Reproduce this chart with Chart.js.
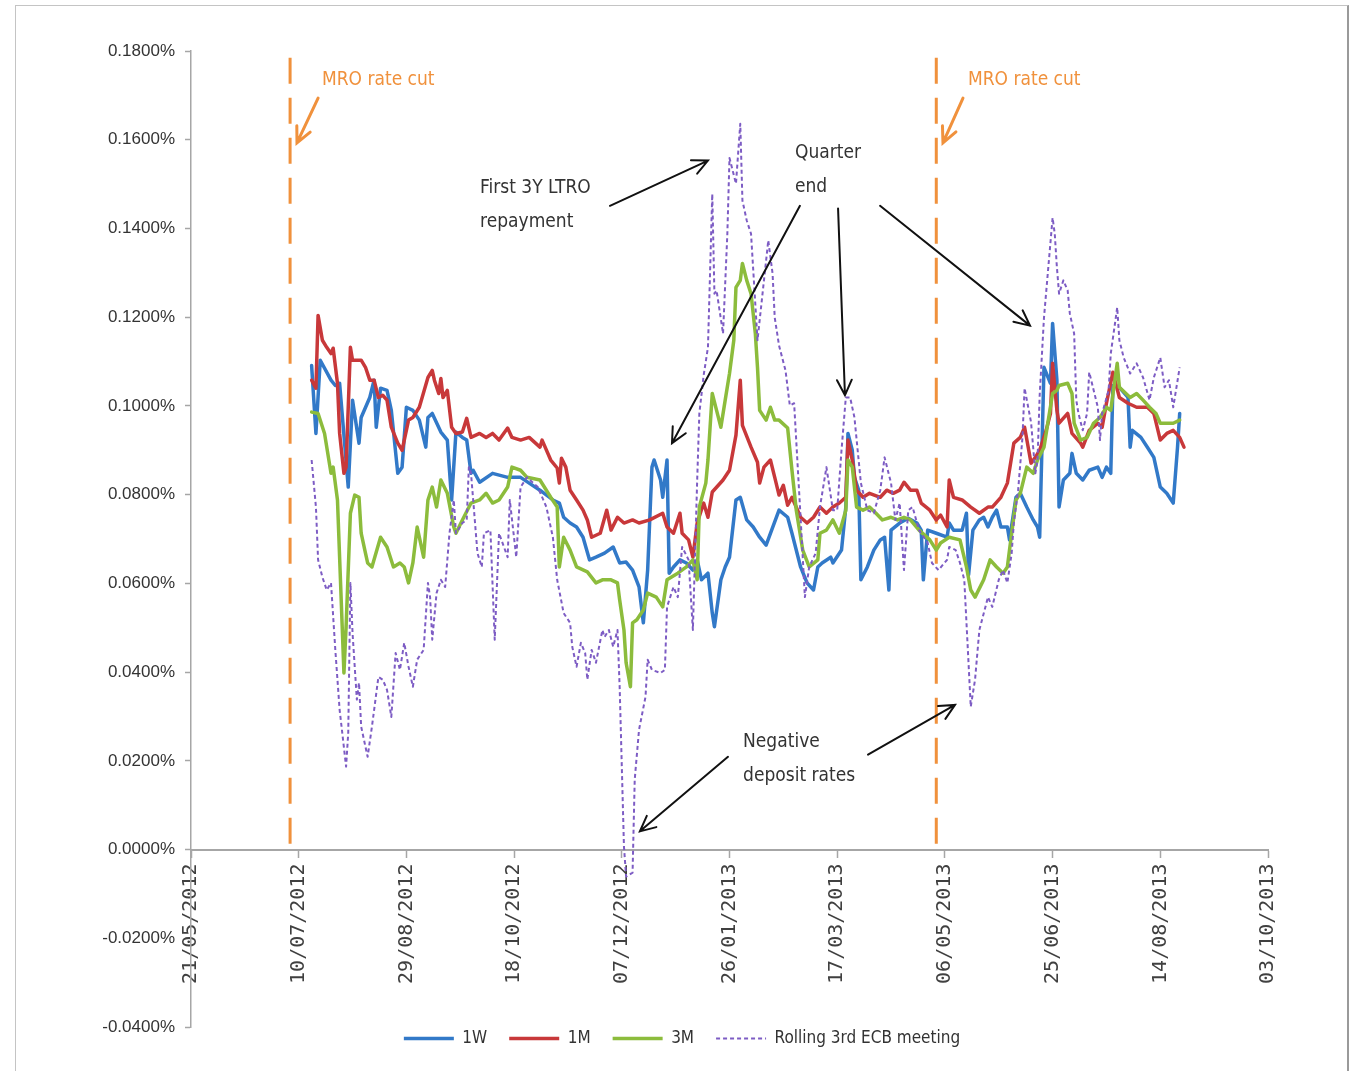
<!DOCTYPE html>
<html>
<head>
<meta charset="utf-8">
<title>Euribor rates around ECB rate cuts</title>
<script src="https://cdn.jsdelivr.net/npm/chart.js@4.4.1/dist/chart.umd.min.js"></script>
<style>
	html, body { margin: 0; padding: 0; background: #fff; }
	#wrap { position: relative; width: 1349px; height: 1071px; }
	#frame { position: absolute; left: 15px; top: 5px; width: 1331px; height: 1080px;
		border-left: 1px solid #c4c4c4; border-top: 1px solid #c4c4c4; border-right: 2px solid #9a9a9a; }
	canvas { position: absolute; left: 0; top: 0; }
</style>
</head>
<body>
<div id="wrap">
	<div id="frame"></div>
	<canvas id="chart" width="1349" height="1071"></canvas>
</div>
<script>
'use strict';

// day offsets counted from 21/05/2012, values in percent
const startDate = Date.UTC( 2012, 4, 21 );
const xTickStep = 50;
const xMaxDay = 500;
const yTicks = { min: -0.04, max: 0.18, step: 0.02 };

const w1Days = [ 56, 58, 60, 65, 67, 69, 73, 75, 78, 79, 83, 85, 86, 88, 91, 93, 96, 98, 100, 103,
	106, 109, 110, 112, 116, 119, 121, 123, 126, 128, 130, 131, 134, 140, 147, 153, 157, 162, 168, 171,
	173, 176, 179, 182, 185, 188, 192, 196, 199, 202, 205, 208, 210, 212, 214, 215, 218, 219, 221, 222,
	224, 227, 230, 233, 235, 237, 240, 242, 243, 246, 248, 250, 253, 255, 258, 261, 264, 267, 273, 277,
	279, 283, 286, 289, 291, 293, 297, 298, 302, 304, 305, 307, 308, 310, 311, 314, 317, 320, 322, 324,
	325, 329, 333, 337, 339, 340, 342, 346, 351, 352, 354, 358, 360, 361, 363, 366, 368, 370, 372, 374,
	376, 379, 380, 383, 385, 388, 391, 393, 394, 396, 399, 400, 402, 403, 405, 408, 409, 411, 414, 417,
	421, 423, 425, 427, 428, 431, 435, 436, 437, 441, 444, 447, 450, 453, 456, 458, 459 ];
const w1Rates = [ 0.1091, 0.0938, 0.1103, 0.1058, 0.1046, 0.1051, 0.0817, 0.1013, 0.0916, 0.0974, 0.1019, 0.1058, 0.0952, 0.1040, 0.1035, 0.0990, 0.0848, 0.0862, 0.0997, 0.0990,
	0.0968, 0.0907, 0.0974, 0.0983, 0.0941, 0.0923, 0.0788, 0.0941, 0.0929, 0.0923, 0.0848, 0.0855, 0.0828, 0.0848, 0.0839, 0.0839, 0.0826, 0.0810, 0.0788, 0.0781,
	0.0749, 0.0736, 0.0727, 0.0704, 0.0653, 0.0659, 0.0668, 0.0682, 0.0646, 0.0648, 0.0630, 0.0592, 0.0511, 0.0630, 0.0862, 0.0878, 0.0833, 0.0794, 0.0878, 0.0623,
	0.0637, 0.0653, 0.0646, 0.0630, 0.0653, 0.0608, 0.0623, 0.0533, 0.0502, 0.0608, 0.0637, 0.0659, 0.0788, 0.0794, 0.0743, 0.0727, 0.0704, 0.0686, 0.0765, 0.0749,
	0.0713, 0.0637, 0.0601, 0.0585, 0.0637, 0.0646, 0.0659, 0.0646, 0.0675, 0.0772, 0.0938, 0.0900, 0.0839, 0.0810, 0.0608, 0.0637, 0.0675, 0.0698, 0.0704, 0.0585,
	0.0720, 0.0736, 0.0747, 0.0736, 0.0720, 0.0608, 0.0720, 0.0713, 0.0704, 0.0736, 0.0720, 0.0720, 0.0758, 0.0619, 0.0720, 0.0743, 0.0749, 0.0727, 0.0749, 0.0765,
	0.0727, 0.0727, 0.0698, 0.0794, 0.0803, 0.0772, 0.0743, 0.0727, 0.0704, 0.1087, 0.1051, 0.1186, 0.1058, 0.0772, 0.0833, 0.0848, 0.0893, 0.0848, 0.0833, 0.0855,
	0.0862, 0.0839, 0.0862, 0.0848, 0.1046, 0.1042, 0.1019, 0.0907, 0.0945, 0.0929, 0.0907, 0.0884, 0.0817, 0.0803, 0.0781, 0.0907, 0.0983 ];

const m1Days = [ 56, 58, 59, 61, 63, 65, 66, 68, 69, 71, 72, 74, 75, 79, 81, 83, 85, 87, 89, 91,
	93, 96, 98, 101, 103, 106, 110, 112, 113, 115, 116, 117, 119, 121, 123, 126, 128, 130, 134, 137,
	140, 143, 147, 149, 153, 157, 162, 163, 167, 170, 171, 172, 174, 176, 179, 182, 184, 186, 190, 193,
	195, 198, 201, 205, 208, 213, 219, 221, 224, 227, 228, 231, 233, 235, 238, 240, 242, 247, 250, 253,
	255, 256, 260, 263, 264, 266, 269, 271, 273, 275, 277, 279, 283, 286, 289, 292, 295, 298, 301, 304,
	305, 307, 309, 312, 315, 320, 323, 326, 329, 331, 334, 337, 339, 343, 346, 348, 351, 352, 354, 358,
	362, 366, 370, 372, 376, 379, 382, 385, 387, 390, 392, 394, 397, 399, 400, 402, 403, 407, 409, 413,
	414, 417, 421, 423, 425, 428, 431, 435, 439, 444, 447, 450, 453, 456, 459, 461 ];
const m1Rates = [ 0.1058, 0.1040, 0.1204, 0.1148, 0.1132, 0.1118, 0.1130, 0.1051, 0.0938, 0.0848, 0.0862, 0.1132, 0.1103, 0.1103, 0.1087, 0.1058, 0.1058, 0.1019, 0.1024, 0.1013,
	0.0952, 0.0916, 0.0900, 0.0968, 0.0974, 0.0997, 0.1064, 0.1080, 0.1058, 0.1028, 0.1062, 0.1019, 0.1035, 0.0952, 0.0938, 0.0941, 0.0972, 0.0929, 0.0938, 0.0929,
	0.0938, 0.0923, 0.0950, 0.0929, 0.0923, 0.0929, 0.0907, 0.0923, 0.0878, 0.0860, 0.0826, 0.0882, 0.0862, 0.0810, 0.0788, 0.0765, 0.0743, 0.0704, 0.0713, 0.0765,
	0.0720, 0.0749, 0.0736, 0.0743, 0.0736, 0.0743, 0.0758, 0.0727, 0.0713, 0.0758, 0.0713, 0.0698, 0.0659, 0.0736, 0.0781, 0.0749, 0.0806, 0.0833, 0.0855, 0.0934,
	0.1058, 0.0956, 0.0907, 0.0873, 0.0826, 0.0862, 0.0878, 0.0839, 0.0799, 0.0821, 0.0776, 0.0794, 0.0749, 0.0736, 0.0749, 0.0772, 0.0758, 0.0772, 0.0781, 0.0794,
	0.0923, 0.0878, 0.0810, 0.0794, 0.0803, 0.0794, 0.0810, 0.0803, 0.0810, 0.0828, 0.0810, 0.0810, 0.0781, 0.0765, 0.0743, 0.0754, 0.0727, 0.0833, 0.0794, 0.0788,
	0.0772, 0.0758, 0.0772, 0.0772, 0.0794, 0.0826, 0.0916, 0.0929, 0.0952, 0.0871, 0.0884, 0.0900, 0.0945, 0.0983, 0.1096, 0.0990, 0.0961, 0.0983, 0.0938, 0.0916,
	0.0907, 0.0945, 0.0961, 0.0952, 0.1006, 0.1076, 0.1019, 0.1006, 0.0997, 0.0997, 0.0983, 0.0923, 0.0938, 0.0945, 0.0929, 0.0907 ];

const m3Days = [ 56, 59, 62, 65, 66, 68, 71, 72, 74, 76, 78, 79, 81, 82, 84, 88, 91, 94, 97, 99,
	101, 103, 105, 108, 110, 112, 114, 116, 119, 122, 123, 126, 130, 134, 137, 140, 143, 147, 149, 153,
	156, 162, 167, 170, 171, 173, 176, 179, 184, 188, 191, 195, 198, 199, 201, 202, 204, 205, 207, 210,
	212, 216, 219, 221, 226, 230, 233, 235, 236, 239, 240, 242, 244, 246, 248, 250, 252, 253, 255, 256,
	258, 260, 262, 263, 264, 267, 269, 271, 273, 277, 279, 281, 284, 287, 291, 292, 295, 298, 301, 304,
	305, 307, 309, 312, 315, 318, 321, 325, 328, 331, 334, 338, 343, 346, 348, 352, 357, 360, 362, 364,
	368, 371, 374, 377, 379, 380, 383, 385, 388, 391, 393, 396, 398, 400, 402, 403, 407, 409, 410, 413,
	416, 419, 422, 425, 427, 430, 431, 436, 439, 442, 445, 448, 450, 453, 456, 459 ];
const m3Rates = [ 0.0986, 0.0983, 0.0938, 0.0848, 0.0862, 0.0788, 0.0398, 0.0502, 0.0758, 0.0799, 0.0794, 0.0713, 0.0668, 0.0646, 0.0637, 0.0704, 0.0682, 0.0637, 0.0646, 0.0637,
	0.0601, 0.0646, 0.0727, 0.0659, 0.0788, 0.0817, 0.0772, 0.0833, 0.0803, 0.0727, 0.0713, 0.0743, 0.0781, 0.0788, 0.0803, 0.0781, 0.0788, 0.0817, 0.0862, 0.0855,
	0.0839, 0.0833, 0.0794, 0.0772, 0.0637, 0.0704, 0.0675, 0.0637, 0.0626, 0.0601, 0.0608, 0.0608, 0.0601, 0.0563, 0.0495, 0.0421, 0.0367, 0.0511, 0.0518, 0.0540,
	0.0578, 0.0569, 0.0547, 0.0608, 0.0623, 0.0637, 0.0653, 0.0608, 0.0772, 0.0826, 0.0878, 0.1028, 0.0990, 0.0952, 0.1013, 0.1073, 0.1148, 0.1267, 0.1283, 0.1321,
	0.1283, 0.1253, 0.1163, 0.1087, 0.0990, 0.0968, 0.0997, 0.0968, 0.0968, 0.0950, 0.0855, 0.0765, 0.0675, 0.0637, 0.0653, 0.0713, 0.0720, 0.0743, 0.0713, 0.0765,
	0.0878, 0.0862, 0.0772, 0.0765, 0.0772, 0.0758, 0.0743, 0.0749, 0.0743, 0.0749, 0.0743, 0.0720, 0.0698, 0.0675, 0.0691, 0.0704, 0.0698, 0.0637, 0.0585, 0.0569,
	0.0608, 0.0653, 0.0637, 0.0623, 0.0637, 0.0675, 0.0788, 0.0803, 0.0862, 0.0848, 0.0878, 0.0907, 0.0968, 0.1028, 0.1035, 0.1046, 0.1051, 0.1028, 0.0961, 0.0923,
	0.0929, 0.0961, 0.0974, 0.0997, 0.0990, 0.1096, 0.1042, 0.1019, 0.1028, 0.1013, 0.0997, 0.0983, 0.0961, 0.0961, 0.0961, 0.0968 ];

const ecbDays = [ 56, 58, 59, 61, 63, 65, 67, 69, 72, 73, 74, 75, 77, 78, 79, 82, 84, 87, 89, 91,
	93, 95, 97, 99, 101, 103, 105, 108, 110, 111, 112, 114, 116, 118, 120, 122, 123, 126, 128, 129,
	130, 133, 135, 136, 139, 141, 143, 147, 148, 151, 153, 156, 161, 165, 168, 170, 173, 176, 177, 179,
	181, 183, 184, 186, 188, 191, 192, 194, 196, 198, 199, 201, 202, 205, 206, 208, 211, 212, 214, 218,
	220, 221, 224, 226, 228, 231, 233, 235, 236, 238, 240, 242, 243, 244, 247, 249, 250, 253, 255, 256,
	258, 260, 263, 265, 266, 268, 270, 271, 273, 276, 278, 280, 283, 285, 287, 290, 292, 295, 298, 300,
	302, 304, 306, 308, 311, 314, 317, 320, 322, 325, 327, 329, 331, 333, 335, 338, 342, 344, 347, 351,
	352, 355, 357, 359, 362, 364, 366, 370, 372, 375, 377, 379, 381, 382, 384, 386, 387, 390, 392, 393,
	394, 396, 398, 400, 401, 402, 403, 405, 407, 408, 410, 411, 412, 414, 416, 417, 421, 422, 423, 426,
	427, 430, 431, 433, 436, 439, 442, 445, 447, 450, 452, 454, 456, 459 ];
const ecbRates = [ 0.0878, 0.0772, 0.0653, 0.0614, 0.0585, 0.0601, 0.0450, 0.0315, 0.0187, 0.0263, 0.0601, 0.0488, 0.0338, 0.0376, 0.0277, 0.0209, 0.0277, 0.0389, 0.0383, 0.0360,
	0.0299, 0.0443, 0.0405, 0.0466, 0.0412, 0.0367, 0.0428, 0.0450, 0.0601, 0.0569, 0.0473, 0.0578, 0.0608, 0.0592, 0.0713, 0.0788, 0.0713, 0.0736, 0.0743, 0.0862,
	0.0848, 0.0668, 0.0637, 0.0713, 0.0720, 0.0473, 0.0713, 0.0659, 0.0788, 0.0659, 0.0817, 0.0839, 0.0817, 0.0772, 0.0704, 0.0608, 0.0533, 0.0511, 0.0457, 0.0412,
	0.0466, 0.0443, 0.0383, 0.0450, 0.0421, 0.0495, 0.0479, 0.0495, 0.0457, 0.0495, 0.0367, 0.0007, -0.0061, -0.0052, 0.0158, 0.0270, 0.0344, 0.0428, 0.0405, 0.0398,
	0.0405, 0.0547, 0.0592, 0.0569, 0.0682, 0.0653, 0.0495, 0.0833, 0.0983, 0.1069, 0.1132, 0.1478, 0.1253, 0.1260, 0.1163, 0.1388, 0.1559, 0.1501, 0.1636, 0.1463,
	0.1418, 0.1388, 0.1148, 0.1238, 0.1283, 0.1373, 0.1298, 0.1199, 0.1136, 0.1080, 0.1001, 0.1006, 0.0749, 0.0569, 0.0637, 0.0668, 0.0772, 0.0862, 0.0765, 0.0765,
	0.0900, 0.1019, 0.1019, 0.0974, 0.0826, 0.0765, 0.0758, 0.0810, 0.0884, 0.0826, 0.0743, 0.0781, 0.0630, 0.0765, 0.0772, 0.0720, 0.0691, 0.0646, 0.0630, 0.0653,
	0.0682, 0.0675, 0.0646, 0.0608, 0.0322, 0.0383, 0.0495, 0.0569, 0.0547, 0.0608, 0.0630, 0.0601, 0.0668, 0.0736, 0.0810, 0.0929, 0.1040, 0.0963, 0.0848, 0.0878,
	0.1024, 0.1199, 0.1312, 0.1424, 0.1388, 0.1312, 0.1253, 0.1283, 0.1260, 0.1208, 0.1163, 0.1013, 0.0983, 0.0945, 0.0983, 0.1076, 0.0997, 0.0923, 0.0983, 0.1035,
	0.1118, 0.1222, 0.1148, 0.1109, 0.1073, 0.1096, 0.1064, 0.1013, 0.1064, 0.1109, 0.1042, 0.1058, 0.0997, 0.1087 ];

// ECB rate cut dates (06/07/2012 and 02/05/2013) as day offsets
const rateCutDays = [ 46, 346 ];

const ORANGE = '#f0913c';
const TEXT_FONT = '"Liberation Sans Narrow", "DejaVu Sans Condensed", "Liberation Sans", sans-serif';

const toPoints = ( days, rates ) => days.map( ( d, i ) => ( { x: d, y: rates[ i ] } ) );

const formatDay = ( value ) => {
	const date = new Date( startDate + value * 86400000 );
	const dd = String( date.getUTCDate() ).padStart( 2, '0' );
	const mm = String( date.getUTCMonth() + 1 ).padStart( 2, '0' );
	return dd + '/' + mm + '/' + date.getUTCFullYear();
};

const notes = [
	{ lines: [ 'MRO rate cut' ], at: [ 60.8, 0.1735 ], color: ORANGE },
	{ lines: [ 'MRO rate cut' ], at: [ 360.7, 0.1735 ], color: ORANGE },
	{ lines: [ 'First 3Y LTRO', 'repayment' ], at: [ 134.2, 0.1492 ] },
	{ lines: [ 'Quarter', 'end' ], at: [ 280.4, 0.1571 ] },
	{ lines: [ 'Negative', 'deposit rates' ], at: [ 256.3, 0.0243 ] },
];

const arrows = [
	{ from: [ 59.0, 0.1694 ], to: [ 49.2, 0.1593 ], color: ORANGE, width: 3 },
	{ from: [ 358.4, 0.1694 ], to: [ 349.1, 0.1593 ], color: ORANGE, width: 3 },
	{ from: [ 194.5, 0.1451 ], to: [ 240.0, 0.1553 ] },
	{ from: [ 282.7, 0.1451 ], to: [ 223.3, 0.0916 ] },
	{ from: [ 300.4, 0.1445 ], to: [ 303.6, 0.1024 ] },
	{ from: [ 319.9, 0.1451 ], to: [ 389.5, 0.1181 ] },
	{ from: [ 249.3, 0.0209 ], to: [ 208.4, 0.0041 ] },
	{ from: [ 314.3, 0.0214 ], to: [ 354.7, 0.0326 ] },
];

const annotations = {
	id: 'annotations',

	beforeDatasetsDraw( chart ) {
		const { ctx, scales: { x, y } } = chart;
		ctx.save();
		ctx.strokeStyle = ORANGE;
		ctx.lineWidth = 3;
		ctx.setLineDash( [ 26, 14 ] );
		rateCutDays.forEach( ( day ) => {
			const px = x.getPixelForValue( day );
			ctx.beginPath();
			ctx.moveTo( px, y.getPixelForValue( 0.1785 ) );
			ctx.lineTo( px, y.getPixelForValue( 0 ) );
			ctx.stroke();
		} );
		ctx.restore();
	},

	afterDatasetsDraw( chart ) {
		const { ctx, scales: { x, y } } = chart;
		ctx.save();
		ctx.lineCap = 'round';

		arrows.forEach( ( arrow ) => {
			const x1 = x.getPixelForValue( arrow.from[ 0 ] );
			const y1 = y.getPixelForValue( arrow.from[ 1 ] );
			const x2 = x.getPixelForValue( arrow.to[ 0 ] );
			const y2 = y.getPixelForValue( arrow.to[ 1 ] );
			const angle = Math.atan2( y2 - y1, x2 - x1 );
			const head = 17;

			ctx.strokeStyle = arrow.color || '#111';
			ctx.lineWidth = arrow.width || 2;
			ctx.beginPath();
			ctx.moveTo( x1, y1 );
			ctx.lineTo( x2, y2 );
			ctx.moveTo( x2 - head * Math.cos( angle - 0.45 ), y2 - head * Math.sin( angle - 0.45 ) );
			ctx.lineTo( x2, y2 );
			ctx.lineTo( x2 - head * Math.cos( angle + 0.45 ), y2 - head * Math.sin( angle + 0.45 ) );
			ctx.stroke();
		} );

		ctx.font = '19px ' + TEXT_FONT;
		ctx.textAlign = 'left';
		ctx.textBaseline = 'middle';
		notes.forEach( ( note ) => {
			ctx.fillStyle = note.color || '#333';
			const px = x.getPixelForValue( note.at[ 0 ] );
			const py = y.getPixelForValue( note.at[ 1 ] );
			note.lines.forEach( ( line, i ) => {
				ctx.fillText( line, px, py + i * 34 );
			} );
		} );

		ctx.restore();
	},
};

// moves the legend up into the blank strip under the lowest tick
const legendLift = {
	id: 'legendLift',
	afterLayout( chart ) {
		chart.legend.top -= 19;
		chart.legend.bottom -= 19;
	},
};

window.addEventListener( 'DOMContentLoaded', function () {

	const lineSeries = ( label, days, rates, color, extra ) => Object.assign( {
		label: label,
		data: toPoints( days, rates ),
		borderColor: color,
		backgroundColor: color,
		borderWidth: 3.5,
		pointRadius: 0,
		tension: 0,
		borderJoinStyle: 'round',
		borderCapStyle: 'round',
		fill: false,
	}, extra );

	const chart = new Chart( document.getElementById( 'chart' ), {
		type: 'line',
		data: {
			datasets: [
				lineSeries( '1W', w1Days, w1Rates, '#3279c8', { order: 4 } ),
				lineSeries( '1M', m1Days, m1Rates, '#c8383a', { order: 3 } ),
				lineSeries( '3M', m3Days, m3Rates, '#8cbc3c', { order: 2 } ),
				lineSeries( 'Rolling 3rd ECB meeting', ecbDays, ecbRates, '#7d5cc4', {
					order: 1,
					borderWidth: 2,
					borderDash: [ 4, 3 ],
					borderCapStyle: 'butt',
				} ),
			],
		},
		options: {
			responsive: false,
			animation: false,
			layout: {
				padding: { left: 96, right: 81, top: 51, bottom: -5 },
			},
			scales: {
				x: {
					type: 'linear',
					min: 0,
					max: xMaxDay,
					position: { y: 0 },
					afterFit: ( scale ) => {
						scale.height = 0;
					},
					grid: {
						drawOnChartArea: false,
						tickLength: 7,
						tickWidth: 1.5,
						tickColor: '#a6a6a6',
					},
					border: { color: '#a6a6a6', width: 2 },
					ticks: {
						stepSize: xTickStep,
						autoSkip: false,
						minRotation: 90,
						maxRotation: 90,
						padding: 7,
						color: '#404040',
						font: { family: '"DejaVu Sans Mono", monospace', size: 20 },
						callback: ( value ) => formatDay( value ),
					},
				},
				y: {
					min: yTicks.min,
					max: yTicks.max,
					afterFit: ( scale ) => {
						scale.width = 95;
					},
					grid: {
						drawOnChartArea: false,
						tickLength: 6,
						tickWidth: 1.5,
						tickColor: '#a6a6a6',
					},
					border: { color: '#a6a6a6', width: 1.5 },
					ticks: {
						stepSize: yTicks.step,
						padding: 10,
						color: '#333',
						font: { family: '"Liberation Sans", Arial, sans-serif', size: 17 },
						callback: ( value ) => value.toFixed( 4 ) + '%',
					},
				},
			},
			plugins: {
				tooltip: { enabled: false },
				legend: {
					position: 'bottom',
					labels: {
						usePointStyle: true,
						pointStyle: 'line',
						pointStyleWidth: 50,
						padding: 22,
						color: '#333',
						font: { family: TEXT_FONT, size: 17 },
						sort: ( a, b ) => a.datasetIndex - b.datasetIndex,
						generateLabels: ( chart ) => {
							const items = Chart.defaults.plugins.legend.labels.generateLabels( chart );
							items.forEach( ( item ) => {
								const dataset = chart.data.datasets[ item.datasetIndex ];
								item.lineWidth = dataset.borderWidth;
								item.lineDash = dataset.borderDash || [];
								item.strokeStyle = dataset.borderColor;
							} );
							return items;
						},
					},
				},
			},
		},
		plugins: [ annotations, legendLift ],
	} );

} );
</script>
</body>
</html>
